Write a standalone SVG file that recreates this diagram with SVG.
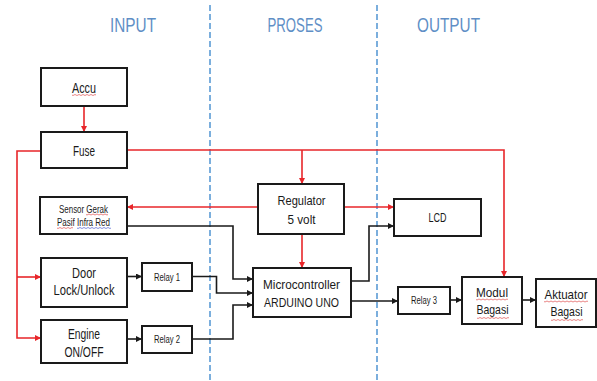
<svg xmlns="http://www.w3.org/2000/svg" width="597" height="381" viewBox="0 0 597 381">
<style>
.box{fill:#fff;stroke:#1a1a1a;stroke-width:2}
.t{font-family:"Liberation Sans",Arial,sans-serif;fill:#1a1a1a;text-anchor:middle}
.title{font-family:"Liberation Sans",Arial,sans-serif;fill:#5f8fc6;font-size:21px}
.red{fill:none;stroke:#e8262a;stroke-width:1.6}
.blk{fill:none;stroke:#1a1a1a;stroke-width:1.6}
.dash{stroke:#5b9bd5;stroke-width:1.6;stroke-dasharray:6 3}
.sq{fill:none;stroke:#e05050;stroke-width:0.7}
.sqb{fill:none;stroke:#5060d0;stroke-width:0.7}
</style>
<defs>
<marker id="ar" markerWidth="6" markerHeight="6" refX="5" refY="3" orient="auto" markerUnits="userSpaceOnUse"><path d="M0,0 L6,3 L0,6 z" fill="#e8262a"/></marker>
<marker id="ab" markerWidth="6" markerHeight="6" refX="5" refY="3" orient="auto" markerUnits="userSpaceOnUse"><path d="M0,0 L6,3 L0,6 z" fill="#1a1a1a"/></marker>
</defs>
<rect width="597" height="381" fill="#fff"/>
<g id="sections">
<line class="dash" x1="210" y1="5" x2="210" y2="381"/>
<line class="dash" x1="377" y1="5" x2="377" y2="381"/>
<text class="title" x="110" y="31.5" textLength="46" lengthAdjust="spacingAndGlyphs">INPUT</text>
<text class="title" x="267.5" y="31.5" textLength="55" lengthAdjust="spacingAndGlyphs">PROSES</text>
<text class="title" x="417" y="31.5" textLength="63" lengthAdjust="spacingAndGlyphs">OUTPUT</text>
</g>
<g id="connectors">
<path class="red" d="M84,106 V131" marker-end="url(#ar)"/>
<path class="red" d="M127,150 H504 V276" marker-end="url(#ar)"/>
<path class="red" d="M41,151 H17 V338 H40" marker-end="url(#ar)"/>
<path class="red" d="M17,277 H40" marker-end="url(#ar)"/>
<path class="red" d="M302,150 V183" marker-end="url(#ar)"/>
<path class="red" d="M258,207 H128" marker-end="url(#ar)"/>
<path class="red" d="M344,207 H393" marker-end="url(#ar)"/>
<path class="red" d="M302,234 V267" marker-end="url(#ar)"/>
<path class="blk" d="M127,226 H233 V279 H252" marker-end="url(#ab)"/>
<path class="blk" d="M127,276.5 H141" marker-end="url(#ab)"/>
<path class="blk" d="M192,276.5 H216.5 V293 H252" marker-end="url(#ab)"/>
<path class="blk" d="M127,339 H141" marker-end="url(#ab)"/>
<path class="blk" d="M192,339 H233 V305 H252" marker-end="url(#ab)"/>
<path class="blk" d="M351,281 H369 V226 H393" marker-end="url(#ab)"/>
<path class="blk" d="M351,301 H397" marker-end="url(#ab)"/>
<path class="blk" d="M450,300 H461" marker-end="url(#ab)"/>
<path class="blk" d="M522,300 H535" marker-end="url(#ab)"/>
</g>
<g id="accu"><rect class="box" x="41" y="68" width="86" height="38"/><text class="t" x="84" y="92.5" font-size="14" textLength="24" lengthAdjust="spacingAndGlyphs">Accu</text></g>
<g id="fuse"><rect class="box" x="41" y="132" width="86" height="36"/><text class="t" x="84" y="155.5" font-size="14" textLength="22" lengthAdjust="spacingAndGlyphs">Fuse</text></g>
<g id="sensor"><rect class="box" x="40" y="197" width="87" height="37"/><text class="t" x="83.5" y="212.5" font-size="10" textLength="49" lengthAdjust="spacingAndGlyphs">Sensor Gerak</text><text class="t" x="83.5" y="226" font-size="10" textLength="53" lengthAdjust="spacingAndGlyphs">Pasif Infra Red</text></g>
<g id="door"><rect class="box" x="41" y="258" width="86" height="49"/><text class="t" x="84" y="277.5" font-size="14" textLength="24" lengthAdjust="spacingAndGlyphs">Door</text><text class="t" x="84" y="295" font-size="14" textLength="61" lengthAdjust="spacingAndGlyphs">Lock/Unlock</text></g>
<g id="engine"><rect class="box" x="41" y="320" width="86" height="43"/><text class="t" x="84" y="339" font-size="14" textLength="32" lengthAdjust="spacingAndGlyphs">Engine</text><text class="t" x="84" y="356.5" font-size="14" textLength="39" lengthAdjust="spacingAndGlyphs">ON/OFF</text></g>
<g id="relay1"><rect class="box" x="142" y="263" width="50" height="28"/><text class="t" x="167" y="280.5" font-size="10" textLength="26" lengthAdjust="spacingAndGlyphs">Relay 1</text></g>
<g id="relay2"><rect class="box" x="142" y="326" width="50" height="27"/><text class="t" x="167" y="342.5" font-size="10" textLength="26" lengthAdjust="spacingAndGlyphs">Relay 2</text></g>
<g id="regulator"><rect class="box" x="258" y="184" width="86" height="50"/><text class="t" x="301.5" y="205" font-size="13" textLength="48" lengthAdjust="spacingAndGlyphs">Regulator</text><text class="t" x="301.5" y="223.5" font-size="13" textLength="28" lengthAdjust="spacingAndGlyphs">5 volt</text></g>
<g id="microcontroller"><rect class="box" x="253" y="268" width="98" height="49"/><text class="t" x="301.5" y="289" font-size="13" textLength="77" lengthAdjust="spacingAndGlyphs">Microcontroller</text><text class="t" x="301.5" y="306.5" font-size="13" textLength="75" lengthAdjust="spacingAndGlyphs">ARDUINO UNO</text></g>
<g id="lcd"><rect class="box" x="394" y="199" width="87" height="37"/><text class="t" x="437.5" y="222" font-size="13" textLength="18" lengthAdjust="spacingAndGlyphs">LCD</text></g>
<g id="relay3"><rect class="box" x="398" y="287" width="52" height="27"/><text class="t" x="424" y="304" font-size="10" textLength="26" lengthAdjust="spacingAndGlyphs">Relay 3</text></g>
<g id="modul"><rect class="box" x="462" y="277" width="60" height="47"/><text class="t" x="492" y="297" font-size="13" textLength="32" lengthAdjust="spacingAndGlyphs">Modul</text><text class="t" x="492.5" y="313.5" font-size="13" textLength="32" lengthAdjust="spacingAndGlyphs">Bagasi</text></g>
<g id="aktuator"><rect class="box" x="536" y="279" width="60" height="48"/><text class="t" x="566" y="299" font-size="13" textLength="43" lengthAdjust="spacingAndGlyphs">Aktuator</text><text class="t" x="566.5" y="315.5" font-size="13" textLength="32" lengthAdjust="spacingAndGlyphs">Bagasi</text></g>
<g id="spellcheck">
<path class="sq" d="M72,95 q1,1 2,0 t2,0 t2,0 t2,0 t2,0 t2,0 t2,0 t2,0 t2,0 t2,0 t2,0 t2,0"/>
<path class="sq" d="M86,214.5 q1,1 2,0 t2,0 t2,0 t2,0 t2,0 t2,0 t2,0 t2,0 t2,0 t2,0 t2,0"/>
<path class="sq" d="M57,228 q1,1 2,0 t2,0 t2,0 t2,0 t2,0 t2,0 t2,0 t2,0"/>
<path class="sqb" d="M77,228 q1,1 2,0 t2,0 t2,0 t2,0 t2,0 t2,0 t2,0 t2,0 t2,0 t2,0 t2,0 t2,0 t2,0 t2,0 t2,0 t2,0 t2,0"/>
<path class="sq" d="M476,299.5 q1,1 2,0 t2,0 t2,0 t2,0 t2,0 t2,0 t2,0 t2,0 t2,0 t2,0 t2,0 t2,0 t2,0 t2,0 t2,0 t2,0"/>
<path class="sq" d="M477,318 q1,1 2,0 t2,0 t2,0 t2,0 t2,0 t2,0 t2,0 t2,0 t2,0 t2,0 t2,0 t2,0 t2,0 t2,0 t2,0 t2,0"/>
<path class="sq" d="M544,301.5 q1,1 2,0 t2,0 t2,0 t2,0 t2,0 t2,0 t2,0 t2,0 t2,0 t2,0 t2,0 t2,0 t2,0 t2,0 t2,0 t2,0 t2,0 t2,0 t2,0 t2,0 t2,0 t2,0"/>
<path class="sq" d="M551,320 q1,1 2,0 t2,0 t2,0 t2,0 t2,0 t2,0 t2,0 t2,0 t2,0 t2,0 t2,0 t2,0 t2,0 t2,0 t2,0 t2,0"/>
</g>
</svg>
